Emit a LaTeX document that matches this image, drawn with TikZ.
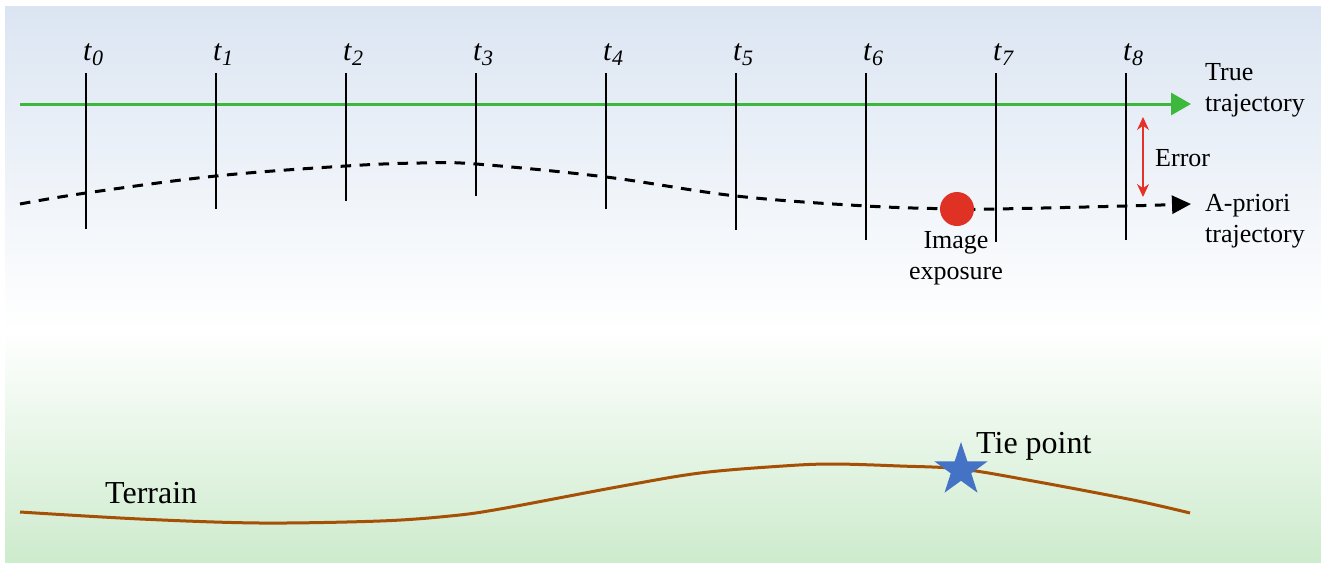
\documentclass[tikz,border=0pt]{standalone}
\usepackage{fontspec}
\setmainfont{Liberation Serif}
\usetikzlibrary{arrows.meta,shapes.geometric}
\definecolor{bgblue}{RGB}{219,229,242}
\definecolor{bggreen}{RGB}{205,235,205}
\definecolor{truegreen}{RGB}{60,185,60}
\definecolor{dotred}{RGB}{224,50,36}
\definecolor{errred}{RGB}{228,50,40}
\definecolor{terrbrown}{RGB}{165,80,5}
\definecolor{starblue}{RGB}{68,114,196}
\newcommand{\tlab}[1]{\fontsize{30}{30}\selectfont\textit{t}\raisebox{-5pt}{\fontsize{22}{22}\selectfont\textit{#1}}}
\tikzset{
  lbl/.style={inner sep=0pt, font=\fontsize{26}{31}\selectfont, align=left},
  biglbl/.style={inner sep=0pt, font=\fontsize{32}{36}\selectfont},
  tick/.style={line width=1.5pt, black},
  tlabel/.style={inner sep=0pt, anchor=base west},
}
\begin{document}
\begin{tikzpicture}[x=1pt,y=-1pt]
\useasboundingbox (0,0) rectangle (1321,562);
% background
\shade[top color=bgblue, bottom color=white] (5,6) rectangle (1321,330);
\shade[top color=white, bottom color=bggreen] (5,330) rectangle (1321,562);
% true trajectory
\coordinate (ts) at (20,104);
\coordinate (te) at (1191,104);
\draw[truegreen, line width=3pt, -{Triangle[length=20pt,width=22pt]}] (ts) -- (te);
% a-priori trajectory
\draw[black, line width=3pt, dash pattern=on 10.5pt off 8.5pt, -{Triangle[length=19pt,width=18pt]}]
  plot[smooth, tension=0.6] coordinates {(20,204) (86,193) (216,176) (346,166) (420,163) (476,164) (606,177) (736,196) (866,206) (957,209) (996,209) (1126,206) (1191,204)};
% ticks and labels
\foreach \i/\x/\yb in {0/86/229, 1/216/209, 2/346/201, 3/476/196, 4/606/209, 5/736/230, 6/866/240, 7/996/242, 8/1126/240} {
  \coordinate (tt\i) at (\x,73);
  \coordinate (tb\i) at (\x,\yb);
  \draw[tick] (tt\i) -- (tb\i);
  \node[tlabel] (tl\i) at (\x-3,60) {\tlab{\i}};
}
% image exposure
\node[circle, fill=dotred, minimum size=34pt, inner sep=0pt] (dot) at (957,209) {};
\node[lbl, align=center] (imgexp) at (956,258) {Image\\exposure};
% error
\coordinate (ea) at (1143,117);
\coordinate (eb) at (1143,197);
\draw[errred, line width=1.5pt, {Stealth[length=13pt,width=12pt]}-{Stealth[length=13pt,width=12pt]}] (ea) -- (eb);
\node[lbl, anchor=west] (err) at (1155,158) {Error};
% right labels
\node[lbl, anchor=west] (truelbl) at (1205,90) {True\\trajectory};
\node[lbl, anchor=west] (aplbl) at (1205,221) {A-priori\\trajectory};
% terrain
\draw[terrbrown, line width=3pt]
  plot[smooth, tension=0.55] coordinates {(20,512) (140,519) (260,523) (380,521) (450,516) (500,509) (617,487) (700,473) (783,466) (833,464) (900,466) (961,469) (1033,481) (1133,500) (1190,513)};
\node[biglbl, anchor=base west] (terr) at (105,503) {Terrain};
\node[star, star points=5, star point ratio=2.6, fill=starblue, minimum size=56pt, inner sep=0pt] (tie) at (961,470) {};
\node[biglbl, anchor=base west] (tielbl) at (976,453) {Tie point};
\end{tikzpicture}
\end{document}
